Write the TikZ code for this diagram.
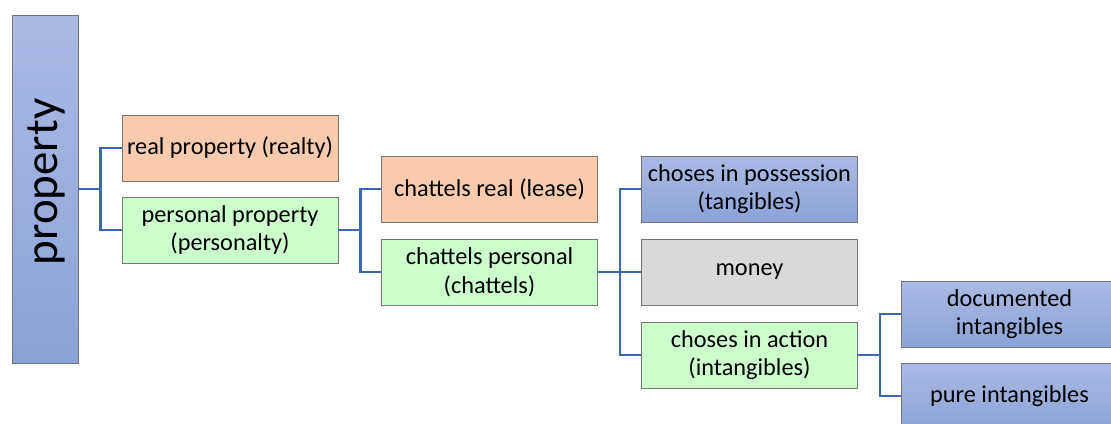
\documentclass[tikz,border=0pt]{standalone}
\usepackage{fontspec}
\setmainfont{Carlito}
\begin{document}
\begin{tikzpicture}[x=1pt,y=-1pt,
  box/.style={draw=boxline, line width=0.8pt, minimum width=216pt, minimum height=66pt,
    inner sep=0pt, align=center, font=\fontsize{24.3}{28.5}\selectfont},
  orangebox/.style={box, fill=orangefill},
  greenbox/.style={box, fill=greenfill},
  graybox/.style={box, fill=grayfill},
  bluebox/.style={box, top color=bluetop, bottom color=bluebot},
  conn/.style={draw=connblue, line width=2.2pt}]
\definecolor{boxline}{RGB}{118,118,118}
\definecolor{orangefill}{RGB}{248,203,173}
\definecolor{greenfill}{RGB}{204,255,204}
\definecolor{grayfill}{RGB}{217,217,217}
\definecolor{bluetop}{RGB}{172,186,228}
\definecolor{bluebot}{RGB}{139,162,216}
\definecolor{connblue}{RGB}{62,100,180}
\useasboundingbox (0,0) rectangle (1111,423);
\clip (0,0) rectangle (1111,423);

% root
\node[bluebox, minimum width=66pt, minimum height=348pt] (prop) at (45,189) {};
\node[rotate=90, inner sep=0pt, font=\fontsize{47}{50}\selectfont, anchor=base]
  (proptext) at ([xshift=12pt, yshift=7pt]prop.center) {property};

% first level
\node[orangebox] (real) at (230,148) {real property (realty)};
\node[greenbox]  (pers) at (230,230) {personal property\\(personalty)};

% personal property
\node[orangebox] (chreal) at (489.5,189) {chattels real (lease)};
\node[greenbox]  (chpers) at (489.5,272) {chattels personal\\(chattels)};

% chattels personal
\node[bluebox]  (poss)   at (749.5,189) {choses in possession\\(tangibles)};
\node[graybox]  (money)  at (749.5,272) {money};
\node[greenbox] (action) at (749.5,355) {choses in action\\(intangibles)};

% choses in action
\node[bluebox] (doc)  at (1009.5,314) {documented\\intangibles};
\node[bluebox] (pure) at (1009.5,396) {pure intangibles};

% elbow connectors
\coordinate (j1) at ([xshift=22pt]prop.east);
\draw[conn] (prop.east) -- (j1);
\draw[conn] (j1) |- (real.west);
\draw[conn] (j1) |- (pers.west);

\coordinate (j2) at ([xshift=22pt]pers.east);
\draw[conn] (pers.east) -- (j2);
\draw[conn] (j2) |- (chreal.west);
\draw[conn] (j2) |- (chpers.west);

\coordinate (j3) at ([xshift=22pt]chpers.east);
\draw[conn] (chpers.east) -- (j3);
\draw[conn] (j3) |- (poss.west);
\draw[conn] (j3) |- (money.west);
\draw[conn] (j3) |- (action.west);

\coordinate (j4) at ([xshift=22pt]action.east);
\draw[conn] (action.east) -- (j4);
\draw[conn] (j4) |- (doc.west);
\draw[conn] (j4) |- (pure.west);
\end{tikzpicture}
\end{document}
